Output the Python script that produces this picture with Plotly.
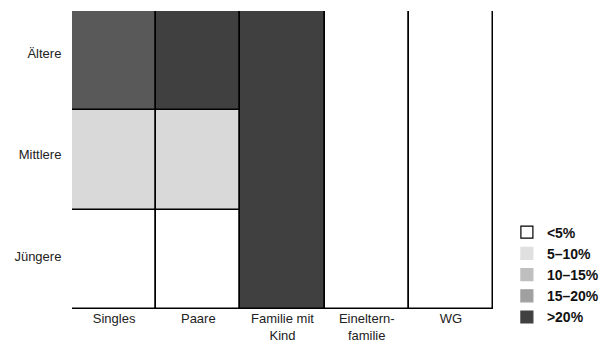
import plotly.graph_objects as go

# ---- data ----
columns = ["Singles", "Paare", "Familie mit<br>Kind", "Eineltern-<br>familie", "WG"]
rows = ["Jüngere", "Mittlere", "Ältere"]
legend_classes = ["<5%", "5–10%", "10–15%", "15–20%", ">20%"]

# share class per cell (rows bottom->top); None = merged with cell below
singles_cls = ["<5%", "5–10%", ">20% (a)"]
paare_cls = ["<5%", "5–10%", ">20%"]
familie_cls = [">20%", None, None]
eineltern_cls = ["<5%", None, None]
wg_cls = ["<5%", None, None]
cells = [singles_cls, paare_cls, familie_cls, eineltern_cls, wg_cls]

# ---- styles ----
palette = {
    "<5%": "#ffffff",
    "5–10%": "#d9d9d9",
    "10–15%": "#bfbfbf",
    "15–20%": "#a0a0a0",
    ">20%": "#404040",
    ">20% (a)": "#595959",
}
legend_palette = {
    "<5%": "#ffffff",
    "5–10%": "#e0e0e0",
    "10–15%": "#bfbfbf",
    "15–20%": "#a0a0a0",
    ">20%": "#404040",
}

fig = go.Figure()

for col, col_cells in zip(columns, cells):
    i = 0
    while i < len(col_cells):
        cls = col_cells[i]
        span = 1
        while i + span < len(col_cells) and col_cells[i + span] is None:
            span += 1
        fig.add_trace(go.Bar(
            x=[col], y=[span], base=[i], width=1, cliponaxis=False,
            marker=dict(color=palette[cls], line=dict(color="black", width=1.5)),
            showlegend=False, hoverinfo="skip",
        ))
        i += span

for cls in legend_classes:
    fig.add_trace(go.Bar(
        x=[None], y=[None], name=cls,
        marker=dict(color=legend_palette[cls],
                    line=dict(color="black" if cls == "<5%" else legend_palette[cls], width=1.2)),
        showlegend=True,
    ))

fig.update_layout(
    width=614, height=345,
    margin=dict(l=64, r=129, t=3, b=44),
    barmode="overlay", bargap=0,
    plot_bgcolor="white", paper_bgcolor="white",
    font=dict(family="Liberation Sans, Arial", size=13, color="#222"),
    legend=dict(x=1.033, y=0.31, xanchor="left", yanchor="top",
                font=dict(size=14, color="#111", weight="bold"),
                tracegroupgap=0, itemwidth=30),
)
fig.update_xaxes(type="category", categoryarray=columns, range=[-0.5, 4.5],
                 showgrid=False, zeroline=False, showline=False, ticks="",
                 automargin=False)
fig.update_yaxes(range=[0, 3], tickvals=[0.53, 1.56, 2.57], ticktext=rows,
                 showgrid=False, zeroline=False, showline=False, ticks="outside",
                 ticklen=7, tickcolor="rgba(0,0,0,0)", automargin=False)

fig.write_html("out.html")
